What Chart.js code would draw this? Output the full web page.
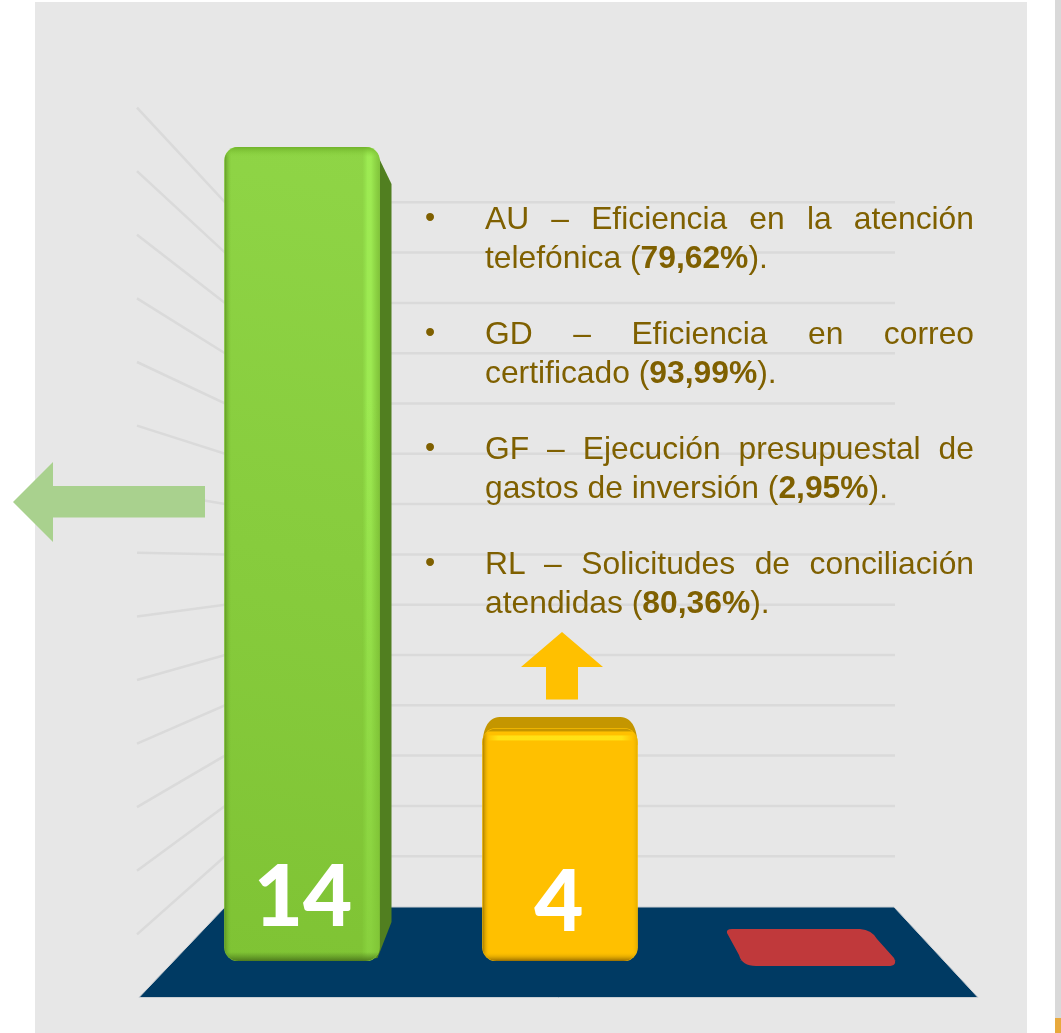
<!DOCTYPE html>
<html lang="es">
<head>
<meta charset="utf-8">
<title>Indicadores</title>
<script src="https://cdn.jsdelivr.net/npm/chart.js@4/dist/chart.umd.min.js"></script>
<style>
html,body{margin:0;padding:0;background:#fff;width:1061px;height:1033px;overflow:hidden}
#wrap{position:relative;width:1061px;height:1033px}
canvas{position:absolute;left:0;top:0}
.item{position:absolute;left:485px;width:489px;font:31.8px/39px "Liberation Sans",Arial,sans-serif;color:#7f6000;text-align:justify}
.item::before{content:"•";position:absolute;left:-60px;top:-1px;font-size:29px}
</style>
</head>
<body>
<div id="wrap"><canvas id="c" width="1061" height="1033"></canvas></div>
<script>
const categories = ["Cumplidos", "En seguimiento", "Críticos"];
const counts = [14, 4, 0];
const barColors = ["#82c636", "#ffc000", "#c0393b"];
const wallTicks = [1, 2, 3, 4, 5, 6, 7, 8, 9, 10, 11, 12, 13, 14];
const noteLead = ["AU – Eficiencia en la atención telefónica (", "GD – Eficiencia en correo certificado (", "GF – Ejecución presupuestal de gastos de inversión (", "RL – Solicitudes de conciliación atendidas ("];
const notePercent = ["79,62%", "93,99%", "2,95%", "80,36%"];

const wrap = document.getElementById('wrap');
noteLead.forEach((t, i) => {
  const d = document.createElement('div');
  d.className = 'item';
  d.style.top = (199 + i * 115) + 'px';
  d.append(t);
  const b = document.createElement('b');
  b.textContent = notePercent[i];
  d.append(b, ').');
  wrap.append(d);
});

function poly(ctx, pts, fill) {
  ctx.beginPath();
  pts.forEach((p, i) => i ? ctx.lineTo(p[0], p[1]) : ctx.moveTo(p[0], p[1]));
  ctx.closePath();
  ctx.fillStyle = fill;
  ctx.fill();
}
function barPath(ctx, b, r) {
  const l = b.x - b.width / 2;
  ctx.beginPath();
  ctx.roundRect(l, b.y, b.width, b.base - b.y, r);
}
function strip(ctx, x0, y0, x1, y1, stops, rx, ry, rw, rh) {
  const g = ctx.createLinearGradient(x0, y0, x1, y1);
  stops.forEach(s => g.addColorStop(s[0], s[1]));
  ctx.fillStyle = g;
  ctx.fillRect(rx, ry, rw, rh);
}
function yellowTop(ctx, b) {
  const l = b.x - b.width / 2, r = b.x + b.width / 2, t = b.y - 11.5;
  ctx.beginPath();
  ctx.moveTo(l, t + 28);
  ctx.bezierCurveTo(l, t + 14, l + 5, t, l + 17, t);
  ctx.lineTo(r - 17, t);
  ctx.bezierCurveTo(r - 5, t, r, t + 14, r, t + 28);
  ctx.closePath();
}

const scene = {
  id: 'scene',
  beforeDraw(chart) {
    const ctx = chart.ctx;
    ctx.save();
    ctx.fillStyle = '#ffffff';
    ctx.fillRect(0, 0, 1061, 1033);
    ctx.fillStyle = '#e7e7e7';
    ctx.fillRect(35, 2, 992, 1031);
    ctx.fillStyle = '#d9d9d9';
    ctx.fillRect(1055, 0, 6, 1033);
    ctx.fillStyle = '#e8a93c';
    ctx.fillRect(1055, 1018, 6, 15);
    ctx.restore();
  },
  beforeDatasetsDraw(chart) {
    const ctx = chart.ctx, meta = chart.getDatasetMeta(0).data;
    const wallY = v => 906.5 - 50.3 * v, sideY = v => 998 - 63.6 * v;
    ctx.save();
    ctx.strokeStyle = '#dadada';
    ctx.lineWidth = 2.5;
    wallTicks.forEach(v => {
      ctx.beginPath();
      ctx.moveTo(137, sideY(v));
      ctx.lineTo(225, wallY(v));
      ctx.lineTo(895, wallY(v));
      ctx.stroke();
    });
    // floor
    poly(ctx, [[225, 907], [894, 907], [978, 997.5], [139, 997.5]], '#003a63');
    ctx.strokeStyle = '#c9ced3';
    ctx.lineWidth = 1;
    ctx.stroke();
    // red tile for the empty column
    const r = meta[2], cx = r.x, by = r.base + 5;
    ctx.beginPath();
    ctx.moveTo(cx - 86, by - 37);
    ctx.lineTo(cx + 42, by - 37);
    ctx.quadraticCurveTo(cx + 54, by - 36, cx + 59, by - 27);
    ctx.lineTo(cx + 76, by - 8);
    ctx.quadraticCurveTo(cx + 80, by, cx + 70, by);
    ctx.lineTo(cx - 62, by);
    ctx.quadraticCurveTo(cx - 76, by, cx - 79, by - 11);
    ctx.lineTo(cx - 91, by - 33);
    ctx.quadraticCurveTo(cx - 92, by - 37, cx - 86, by - 37);
    ctx.closePath();
    ctx.fillStyle = barColors[2];
    ctx.fill();
    // green side face
    const g = meta[0], gr = g.x + g.width / 2;
    poly(ctx, [[gr - 18, g.y], [gr - 10, g.y + 1], [gr - 3, g.y + 6], [gr + 12, g.y + 37], [gr + 12, 922], [gr - 2, 958], [gr - 18, 960]], '#517f20');
    // yellow top face
    const y = meta[1];
    yellowTop(ctx, y);
    ctx.fillStyle = '#c49600';
    ctx.fill();
    ctx.restore();
  },
  afterDatasetsDraw(chart) {
    const ctx = chart.ctx, meta = chart.getDatasetMeta(0).data;
    ctx.save();
    // bevels on the green column
    const g = meta[0], gl = g.x - g.width / 2, gr = g.x + g.width / 2;
    ctx.save();
    barPath(ctx, g, 14);
    ctx.clip();
    strip(ctx, gl, 0, gl + 7, 0, [[0, 'rgba(85,135,30,.75)'], [1, 'rgba(125,195,50,0)']], gl, g.y, 7, g.base - g.y);
    strip(ctx, gr - 17, 0, gr, 0, [[0, 'rgba(150,235,80,0)'], [.3, 'rgba(160,238,85,.85)'], [.5, 'rgba(160,238,85,.85)'], [1, 'rgba(125,190,55,.7)']], gr - 17, g.y, 17, g.base - g.y);
    strip(ctx, 0, g.y + 250, 0, g.base, [[0, 'rgba(130,200,55,0)'], [1, 'rgba(130,200,55,.75)']], gr - 17, g.y + 250, 17, g.base - g.y - 250);
    strip(ctx, 0, g.y, 0, g.y + 10, [[0, 'rgba(110,175,40,.9)'], [1, 'rgba(135,210,60,0)']], gl, g.y, g.width, 10);
    strip(ctx, 0, g.base - 9, 0, g.base, [[0, 'rgba(80,130,30,0)'], [1, 'rgba(70,110,25,.85)']], gl, g.base - 9, g.width, 9);
    ctx.restore();
    // bevels on the yellow column
    const y = meta[1], yl = y.x - y.width / 2, yr = y.x + y.width / 2;
    ctx.save();
    barPath(ctx, y, 14);
    ctx.clip();
    strip(ctx, yl + 4, 0, yr - 4, 0, [[0, 'rgba(255,240,30,0)'], [.08, 'rgba(255,240,30,.7)'], [.92, 'rgba(255,240,30,.7)'], [1, 'rgba(255,240,30,0)']], yl, y.y + 7, y.width, 5);
    strip(ctx, yl, 0, yl + 7, 0, [[0, 'rgba(150,110,0,.85)'], [1, 'rgba(255,192,0,0)']], yl, y.y, 7, y.base - y.y);
    strip(ctx, yr - 6, 0, yr, 0, [[0, 'rgba(255,192,0,0)'], [1, 'rgba(190,150,0,.45)']], yr - 6, y.y, 6, y.base - y.y);
    strip(ctx, 0, y.base - 9, 0, y.base, [[0, 'rgba(255,192,0,0)'], [1, 'rgba(140,100,0,.9)']], yl, y.base - 9, y.width, 9);
    ctx.fillStyle = '#c49600';
    ctx.fillRect(yl, y.y, y.width, 3);
    ctx.restore();
    // arrows
    const ay = 502;
    poly(ctx, [[13, ay], [53, ay - 40], [53, ay - 16], [205, ay - 16], [205, ay + 15.5], [53, ay + 15.5], [53, ay + 40]], '#a9d18e');
    const ux = y.x + 2;
    poly(ctx, [[ux, 632], [ux + 41, 667], [ux + 16, 667], [ux + 16, 699.5], [ux - 16, 699.5], [ux - 16, 667], [ux - 41, 667]], '#ffc000');
    // value labels
    ctx.fillStyle = '#ffffff';
    ctx.font = '900 85px Lato, sans-serif';
    ctx.textAlign = 'center';
    ctx.textBaseline = 'alphabetic';
    [[0, 926], [1, 931]].forEach(([i, base]) => {
      ctx.fillText(String(counts[i]), meta[i].x + (i ? -1 : 1), base);
    });
    ctx.restore();
  }
};

new Chart(document.getElementById('c'), {
  type: 'bar',
  plugins: [scene],
  data: {
    labels: categories,
    datasets: [{
      data: counts,
      barThickness: 155,
      borderRadius: 14,
      borderSkipped: false,
      backgroundColor(c) {
        if (c.dataIndex !== 0 || !c.chart.chartArea) return barColors[c.dataIndex];
        const a = c.chart.chartArea;
        const gr = c.chart.ctx.createLinearGradient(225, a.bottom, 380, a.top);
        gr.addColorStop(0, '#7fc334');
        gr.addColorStop(1, '#8fd546');
        return gr;
      }
    }]
  },
  options: {
    responsive: false,
    animation: false,
    events: [],
    layout: { padding: { left: 173, right: 114, top: 147, bottom: 72 } },
    plugins: { legend: { display: false }, title: { display: false }, tooltip: { enabled: false } },
    scales: {
      x: { display: false },
      y: { display: false, min: 0, max: 14 }
    }
  }
});
</script>
</body>
</html>
